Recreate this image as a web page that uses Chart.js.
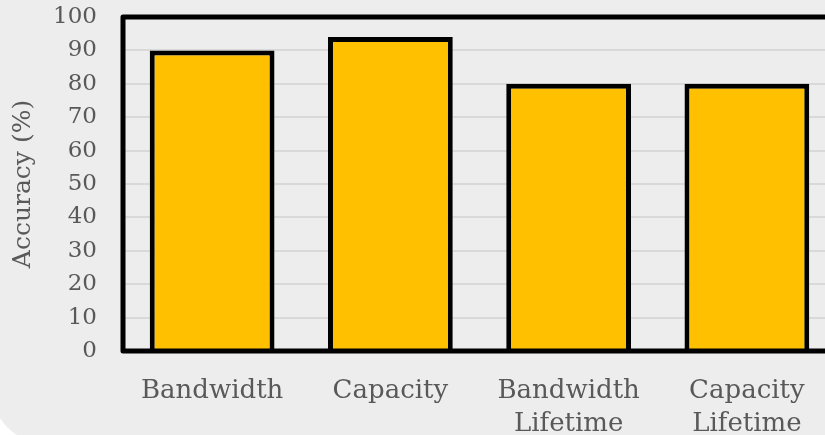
<!DOCTYPE html>
<html>
<head>
<meta charset="utf-8">
<script src="https://cdn.jsdelivr.net/npm/chart.js@4/dist/chart.umd.min.js"></script>
<style>
  html, body { margin: 0; padding: 0; background: #ffffff; overflow: hidden; }
  #bg {
    position: absolute; left: -10px; top: 0; width: 845px; height: 445px;
    background: #ededed; border-bottom-left-radius: 60px; overflow: hidden;
  }
  #wrap { position: absolute; left: 10px; top: 0; width: 836px; height: 435px; }
</style>
</head>
<body>
<div id="bg">
  <div id="wrap"><canvas id="accChart" width="836" height="435"></canvas></div>
</div>
<script>
const ctx = document.getElementById('accChart').getContext('2d');

// values
const categories = [
        ['Bandwidth'],
        ['Capacity'],
        ['Bandwidth', 'Lifetime'],
        ['Capacity', 'Lifetime'],
];
const accuracy = [90, 94, 80, 80];
const yTicks = [0, 10, 20, 30, 40, 50, 60, 70, 80, 90, 100];

const textGray = '#595959';
const fontFamily = '"DejaVu Serif", "Liberation Serif", serif';

// black frame around the plot area
const framePlugin = {
        id: 'frame',
        afterDatasetsDraw(chart) {
                const a = chart.chartArea;
                const c = chart.ctx;
                c.save();
                c.strokeStyle = '#000';
                c.lineWidth = 5;
                c.lineJoin = 'round';
                c.strokeRect(a.left, a.top, a.right - a.left, a.bottom - a.top);
                c.restore();
        },
};

const config = {
        type: 'bar',
        data: {
                labels: categories,
                datasets: [{
                        data: accuracy,
                        backgroundColor: '#ffc000',
                        borderColor: '#000000',
                        borderWidth: 5,
                        borderSkipped: 'start',
                        categoryPercentage: 1.0,
                        barPercentage: 0.7,
                }],
        },
        options: {
                responsive: false,
                animation: false,
                layout: { padding: { top: 17, left: 0, right: 0, bottom: 0 } },
                plugins: {
                        legend: { display: false },
                        tooltip: { enabled: false },
                },
                scales: {
                        x: {
                                grid: { display: false },
                                border: { display: false },
                                ticks: {
                                        color: textGray,
                                        padding: 16,
                                        font: { family: fontFamily, size: 26, lineHeight: 1.27 },
                                        maxRotation: 0,
                                },
                                afterFit: (scale) => {
                                        scale.height = 84;
                                        scale.paddingLeft = 0;
                                        scale.paddingRight = 0;
                                },
                        },
                        y: {
                                min: 0,
                                max: 100,
                                afterBuildTicks: (scale) => {
                                        scale.ticks = yTicks.map(v => ({ value: v }));
                                },
                                grid: { color: '#d9d9d9', lineWidth: 2, drawTicks: false },
                                border: { display: false },
                                ticks: {
                                        color: textGray,
                                        padding: 26,
                                        font: { family: fontFamily, size: 23 },
                                },
                                title: {
                                        display: true,
                                        text: 'Accuracy (%)',
                                        color: textGray,
                                        font: { family: fontFamily, size: 25 },
                                        padding: { top: 8, bottom: 0 },
                                },
                                afterFit: (scale) => {
                                        scale.width = 123;
                                        scale.paddingTop = 0;
                                        scale.paddingBottom = 0;
                                },
                        },
                },
        },
        plugins: [framePlugin],
};

const accChart = new Chart(ctx, config);
</script>
</body>
</html>
